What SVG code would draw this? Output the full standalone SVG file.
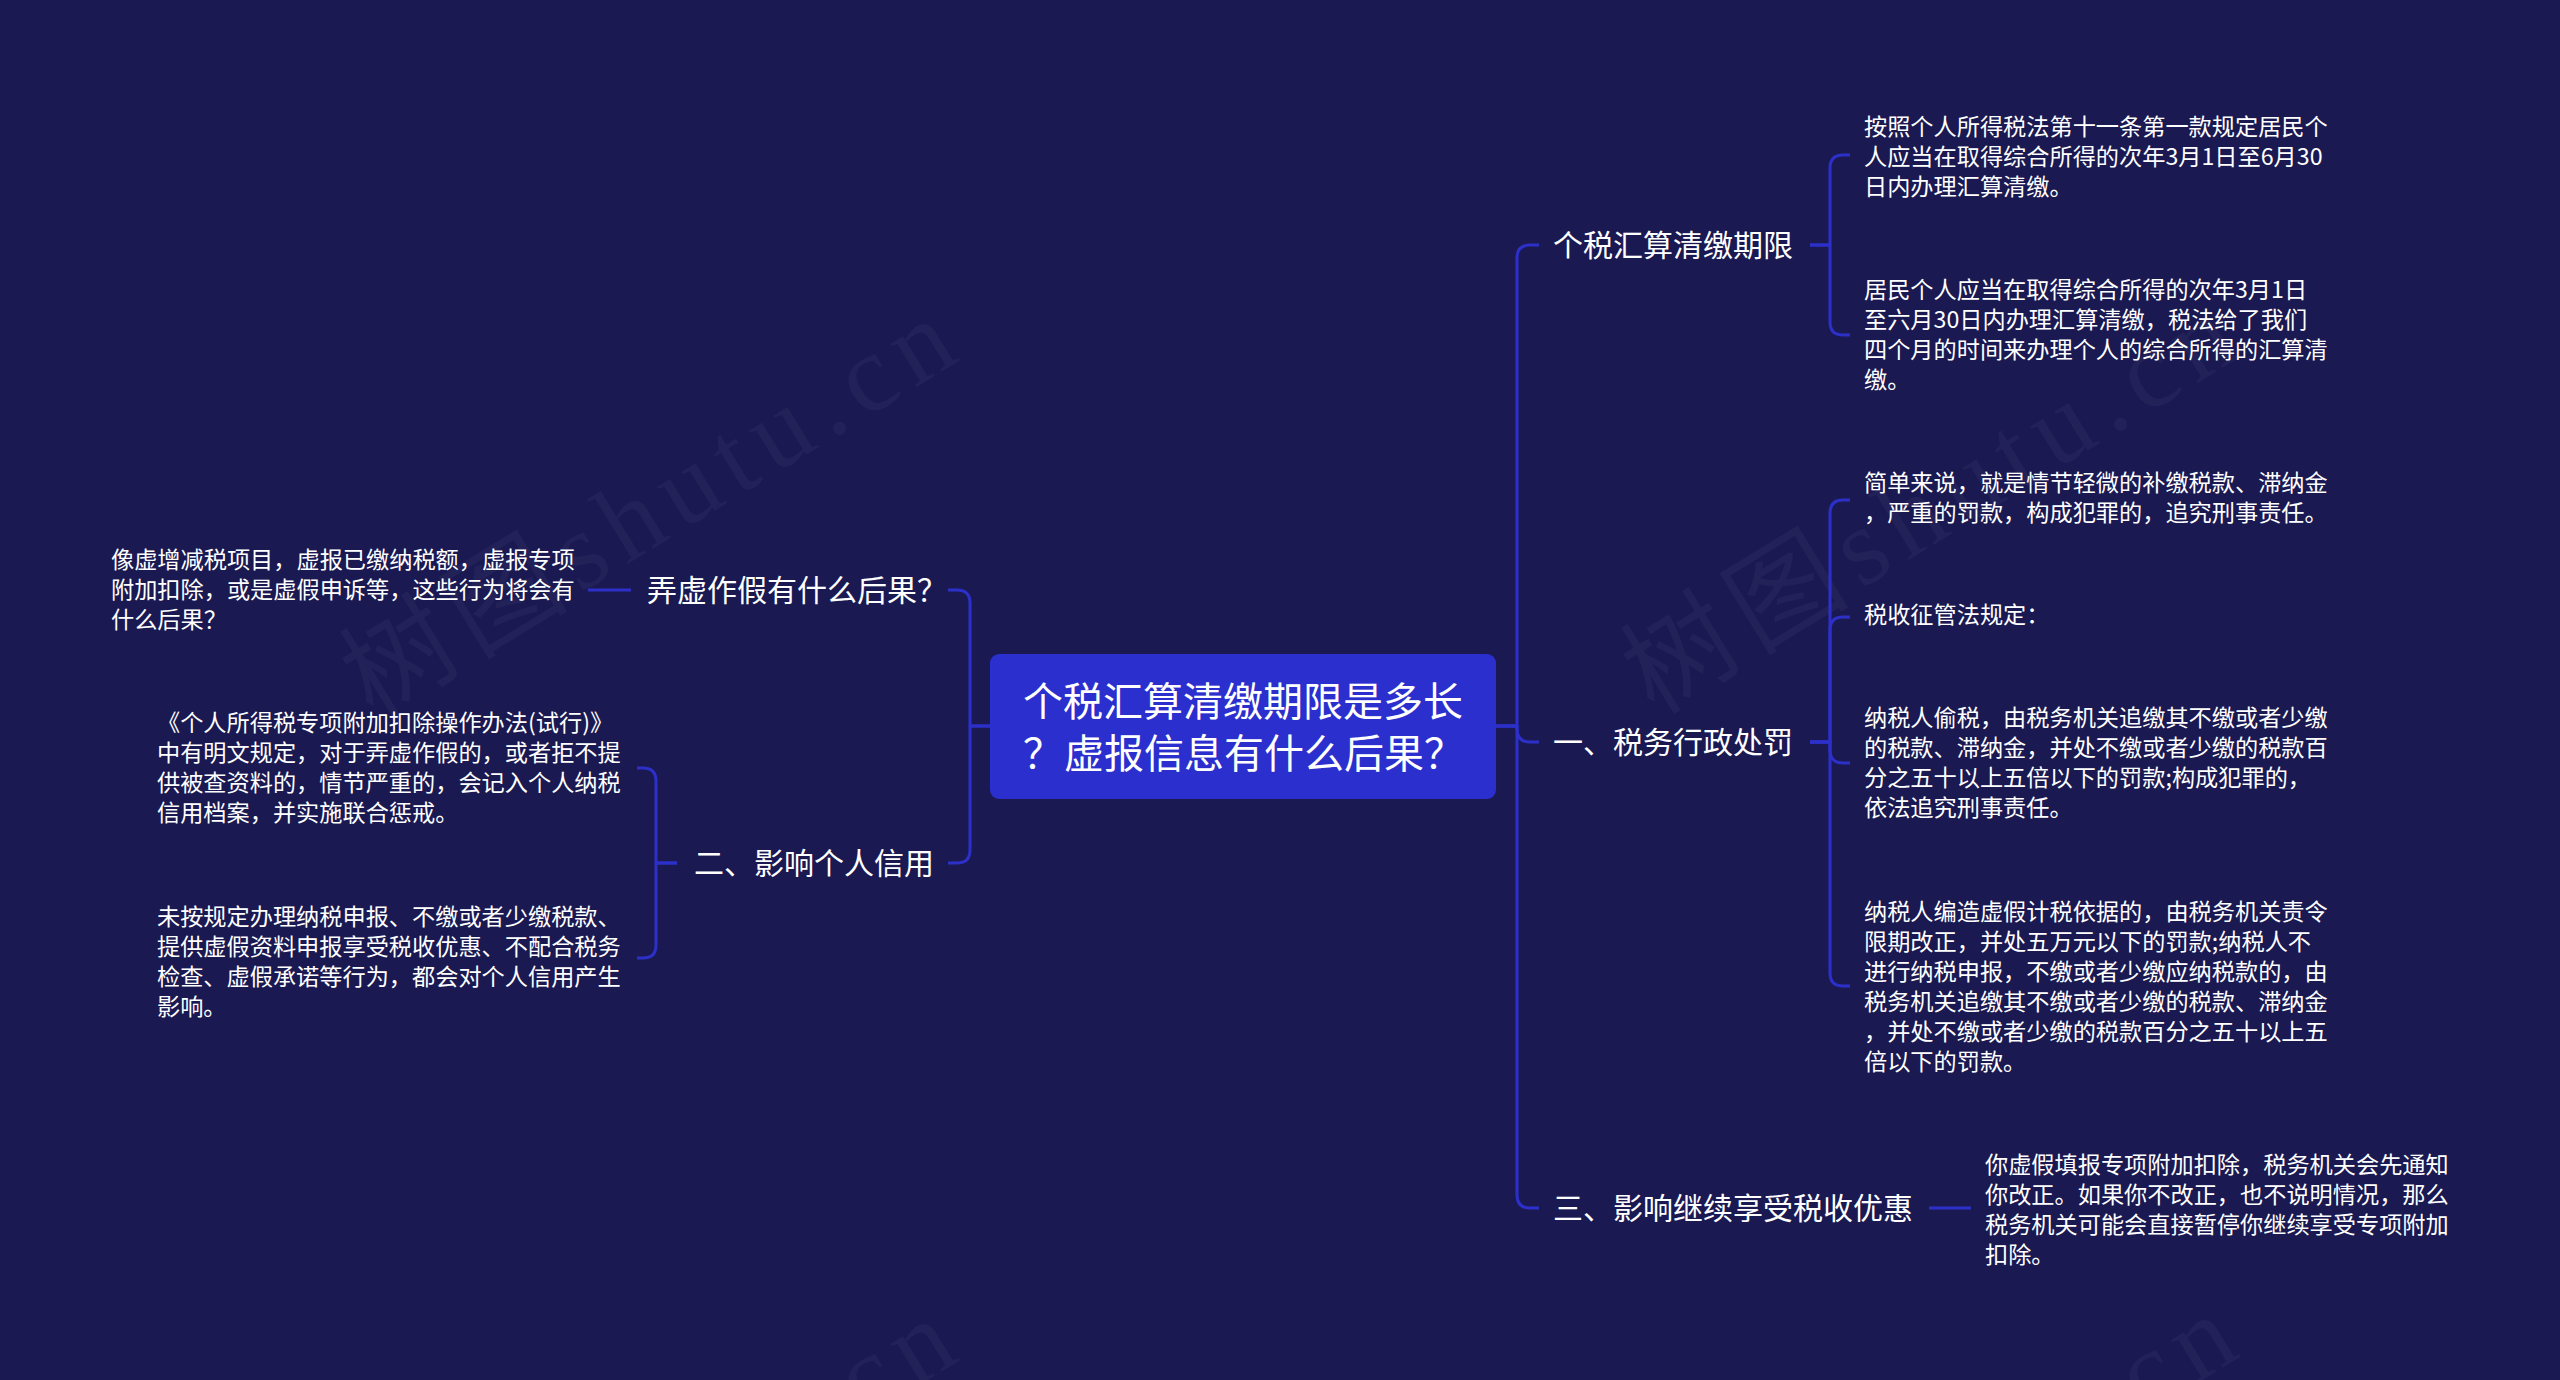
<svg xmlns="http://www.w3.org/2000/svg" width="2560" height="1380" viewBox="0 0 2560 1380">
<style>
.bg{fill:#1a1952}
.wm{font-family:"Liberation Serif","Noto Sans CJK SC",serif;font-size:110px;fill:#ffffff;fill-opacity:0.035}
.ln{fill:none;stroke:#2c30c9;stroke-width:3;stroke-linecap:butt;stroke-linejoin:round}
.root{fill:#2b2fce}
.rt{font-family:"Noto Sans CJK SC","Noto Sans",sans-serif;font-size:40px;fill:#ffffff}
.lb{font-family:"Noto Sans CJK SC","Noto Sans",sans-serif;font-size:30px;fill:#ffffff}
.tx{font-family:"Noto Sans CJK SC","Noto Sans",sans-serif;font-size:23.2px;fill:#ffffff}
</style>
<rect class="bg" x="0" y="0" width="2560" height="1380"/>
<g id="watermarks">
<text class="wm" x="649" y="545" text-anchor="middle" textLength="690" lengthAdjust="spacing" transform="rotate(-31.5 649 510)">树图shutu.cn</text>
<text class="wm" x="1930" y="541" text-anchor="middle" textLength="690" lengthAdjust="spacing" transform="rotate(-31.5 1930 506)">树图shutu.cn</text>
<text class="wm" x="649" y="1545" text-anchor="middle" textLength="690" lengthAdjust="spacing" transform="rotate(-31.5 649 1510)">树图shutu.cn</text>
<text class="wm" x="1930" y="1541" text-anchor="middle" textLength="690" lengthAdjust="spacing" transform="rotate(-31.5 1930 1506)">树图shutu.cn</text>
</g>
<g id="connectors">
<path class="ln" d="M1496,726 H1517 V258 Q1517,245 1530,245 H1539"/>
<path class="ln" d="M1496,726 H1517 V729 Q1517,742 1530,742 H1539"/>
<path class="ln" d="M1496,726 H1517 V1195 Q1517,1208 1530,1208 H1539"/>
<path class="ln" d="M1810,245 H1830 V168 Q1830,155 1843,155 H1850"/>
<path class="ln" d="M1810,245 H1830 V322 Q1830,335 1843,335 H1850"/>
<path class="ln" d="M1810,742 H1830 V513 Q1830,500 1843,500 H1850"/>
<path class="ln" d="M1810,742 H1830 V630 Q1830,617 1843,617 H1850"/>
<path class="ln" d="M1810,742 H1830 V750 Q1830,763 1843,763 H1850"/>
<path class="ln" d="M1810,742 H1830 V973 Q1830,986 1843,986 H1850"/>
<path class="ln" d="M1929,1208 H1971"/>
<path class="ln" d="M990,726 H970 V603 Q970,590 957,590 H948"/>
<path class="ln" d="M990,726 H970 V850 Q970,863 957,863 H948"/>
<path class="ln" d="M631,590 H588"/>
<path class="ln" d="M677,863 H656 V781 Q656,768 643,768 H637"/>
<path class="ln" d="M677,863 H656 V945 Q656,958 643,958 H637"/>
</g>
<g id="root">
<rect class="root" x="990" y="654" width="506" height="145" rx="9"/>
<text class="rt" x="1023" y="716">个税汇算清缴期限是多长</text>
<text class="rt" x="1023" y="768" style="word-spacing:-8px">？ 虚报信息有什么后果？</text>
</g>
<g id="n-qixian">
<text class="lb" x="1553" y="256">个税汇算清缴期限</text>
</g>
<g id="n-qixian-1">
<text class="tx" x="1864"><tspan x="1864" y="135">按照个人所得税法第十一条第一款规定居民个</tspan><tspan x="1864" y="165">人应当在取得综合所得的次年3月1日至6月30</tspan><tspan x="1864" y="195">日内办理汇算清缴。</tspan></text>
</g>
<g id="n-qixian-2">
<text class="tx" x="1864"><tspan x="1864" y="298">居民个人应当在取得综合所得的次年3月1日</tspan><tspan x="1864" y="328">至六月30日内办理汇算清缴，税法给了我们</tspan><tspan x="1864" y="358">四个月的时间来办理个人的综合所得的汇算清</tspan><tspan x="1864" y="388">缴。</tspan></text>
</g>
<g id="n-xingzheng">
<text class="lb" x="1553" y="753">一、税务行政处罚</text>
</g>
<g id="n-xingzheng-1">
<text class="tx" x="1864"><tspan x="1864" y="491">简单来说，就是情节轻微的补缴税款、滞纳金</tspan><tspan x="1864" y="521">，严重的罚款，构成犯罪的，追究刑事责任。</tspan></text>
</g>
<g id="n-xingzheng-2">
<text class="tx" x="1864" y="623">税收征管法规定：</text>
</g>
<g id="n-xingzheng-3">
<text class="tx" x="1864"><tspan x="1864" y="726">纳税人偷税，由税务机关追缴其不缴或者少缴</tspan><tspan x="1864" y="756">的税款、滞纳金，并处不缴或者少缴的税款百</tspan><tspan x="1864" y="786">分之五十以上五倍以下的罚款;构成犯罪的，</tspan><tspan x="1864" y="816">依法追究刑事责任。</tspan></text>
</g>
<g id="n-xingzheng-4">
<text class="tx" x="1864"><tspan x="1864" y="920">纳税人编造虚假计税依据的，由税务机关责令</tspan><tspan x="1864" y="950">限期改正，并处五万元以下的罚款;纳税人不</tspan><tspan x="1864" y="980">进行纳税申报，不缴或者少缴应纳税款的，由</tspan><tspan x="1864" y="1010">税务机关追缴其不缴或者少缴的税款、滞纳金</tspan><tspan x="1864" y="1040">，并处不缴或者少缴的税款百分之五十以上五</tspan><tspan x="1864" y="1070">倍以下的罚款。</tspan></text>
</g>
<g id="n-youhui">
<text class="lb" x="1553" y="1219">三、影响继续享受税收优惠</text>
</g>
<g id="n-youhui-1">
<text class="tx" x="1985"><tspan x="1985" y="1173">你虚假填报专项附加扣除，税务机关会先通知</tspan><tspan x="1985" y="1203">你改正。如果你不改正，也不说明情况，那么</tspan><tspan x="1985" y="1233">税务机关可能会直接暂停你继续享受专项附加</tspan><tspan x="1985" y="1263">扣除。</tspan></text>
</g>
<g id="n-nongxu">
<text class="lb" x="647" y="601">弄虚作假有什么后果？</text>
</g>
<g id="n-nongxu-1">
<text class="tx" x="111"><tspan x="111" y="568">像虚增减税项目，虚报已缴纳税额，虚报专项</tspan><tspan x="111" y="598">附加扣除，或是虚假申诉等，这些行为将会有</tspan><tspan x="111" y="628">什么后果？</tspan></text>
</g>
<g id="n-xinyong">
<text class="lb" x="694" y="874">二、影响个人信用</text>
</g>
<g id="n-xinyong-1">
<text class="tx" x="157"><tspan x="157" y="731">《个人所得税专项附加扣除操作办法(试行)》</tspan><tspan x="157" y="761">中有明文规定，对于弄虚作假的，或者拒不提</tspan><tspan x="157" y="791">供被查资料的，情节严重的，会记入个人纳税</tspan><tspan x="157" y="821">信用档案，并实施联合惩戒。</tspan></text>
</g>
<g id="n-xinyong-2">
<text class="tx" x="157"><tspan x="157" y="925">未按规定办理纳税申报、不缴或者少缴税款、</tspan><tspan x="157" y="955">提供虚假资料申报享受税收优惠、不配合税务</tspan><tspan x="157" y="985">检查、虚假承诺等行为，都会对个人信用产生</tspan><tspan x="157" y="1015">影响。</tspan></text>
</g>
</svg>
